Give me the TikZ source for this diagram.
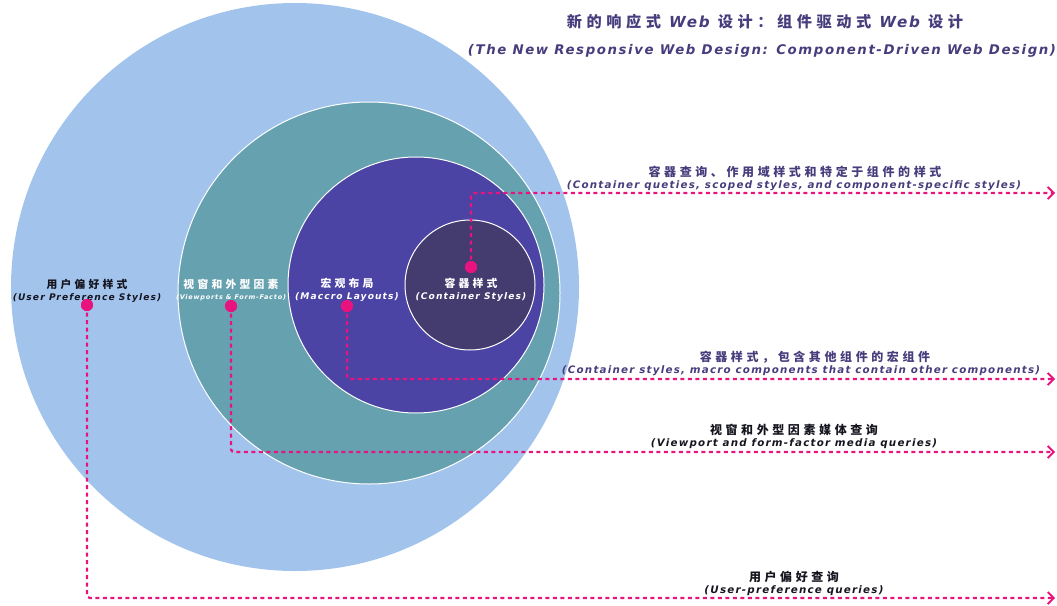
\documentclass[tikz,border=0pt]{standalone}
\usepackage{fontspec}
\usetikzlibrary{arrows.meta}
\newfontfamily\cjk[LetterSpace=30]{Noto Sans CJK SC}
\newfontfamily\en[LetterSpace=12]{DejaVu Sans}
\definecolor{outerblue}{HTML}{A2C4EC}
\definecolor{tealc}{HTML}{66A1B0}
\definecolor{purplec}{HTML}{4C44A4}
\definecolor{darkc}{HTML}{443B6F}
\definecolor{hotpink}{HTML}{E8137E}
\definecolor{titlec}{HTML}{463D7C}
\definecolor{inkc}{HTML}{15151F}
\begin{document}
\begin{tikzpicture}[x=1pt,y=-1pt,
  ring/.style={circle, inner sep=0pt, outer sep=0pt},
  dot/.style={circle, fill=hotpink, inner sep=0pt, minimum size=12pt},
  link/.style={hotpink, line width=2.3pt, dash pattern=on 4pt off 3.5pt,
    -{Straight Barb[length=6pt,width=12pt,line width=1.8pt]}, rounded corners=3pt},
  cnl/.style={inner sep=0pt, font=\cjk\bfseries\fontsize{10.8}{12}\selectfont},
  enl/.style={inner sep=0pt, font=\en\bfseries\itshape\fontsize{9.1}{10}\selectfont},
  cnr/.style={inner sep=0pt, font=\cjk\bfseries\fontsize{12}{14}\selectfont},
  enr/.style={inner sep=0pt, font=\en\bfseries\itshape\fontsize{10.3}{12}\selectfont},
]
\useasboundingbox (0,0) rectangle (1057,605);
% circles
\node[ring, fill=outerblue, minimum size=568pt] (c1) at (295,287) {};
\node[ring, fill=tealc, draw=white, line width=1pt, minimum size=382pt] (c2) at (369,293) {};
\node[ring, fill=purplec, draw=white, line width=1pt, minimum size=256pt] (c3) at (416,285) {};
\node[ring, fill=darkc, draw=white, line width=1pt, minimum size=130pt] (c4) at (470,285) {};

% title
\node[inner sep=0pt, text=titlec, font=\cjk\bfseries\fontsize{15.2}{17}\selectfont] (t1) at (765,22) {新的响应式 {\en\bfseries\itshape Web} 设计：组件驱动式 {\en\bfseries\itshape Web} 设计};
\node[inner sep=0pt, text=titlec, font=\en\bfseries\itshape\fontsize{13.3}{15}\selectfont] (t2) at (762,51) {(The New Responsive Web Design: Component-Driven Web Design)};

% circle labels
\node[cnl, text=inkc] (l1a) at (87,284) {用户偏好样式};
\node[enl, text=inkc] (l1b) at (87,298) {(User Preference Styles)};
\node[cnl, text=white] (l2a) at (231,284) {视窗和外型因素};
\node[inner sep=0pt, text=white, font=\en\bfseries\itshape\fontsize{6.5}{7}\selectfont] (l2b) at (231,298) {(Viewports \& Form-Facto)};
\node[cnl, text=white] (l3a) at (347,283) {宏观布局};
\node[enl, text=white] (l3b) at (347,297) {(Maccro Layouts)};
\node[cnl, text=white] (l4a) at (471,283) {容器样式};
\node[enl, text=white] (l4b) at (471,297) {(Container Styles)};

% dots
\node[dot] (d1) at (87,305) {};
\node[dot] (d2) at (231,306) {};
\node[dot] (d3) at (347,306) {};
\node[dot] (d4) at (471,267) {};

% end points
\coordinate (e4) at (1055,193);
\coordinate (e3) at (1055,379);
\coordinate (e2) at (1055,452);
\coordinate (e1) at (1055,598);

\draw[link] (d4.center) |- (e4);
\draw[link] (d3.center) |- (e3);
\draw[link] (d2.center) |- (e2);
\draw[link] (d1.center) |- (e1);
\node[dot] at (d1) {};
\node[dot] at (d2) {};
\node[dot] at (d3) {};
\node[dot] at (d4) {};

% right labels
\node[cnr, text=titlec] (r4a) at (795,172) {容器查询、作用域样式和特定于组件的样式};
\node[enr, text=titlec] (r4b) at (794,186) {(Container queties, scoped styles, and component-specific styles)};
\node[cnr, text=titlec] (r3a) at (815,357) {容器样式，包含其他组件的宏组件};
\node[enr, text=titlec] (r3b) at (801,371) {(Container styles, macro components that contain other components)};
\node[cnr, text=inkc] (r2a) at (794,430) {视窗和外型因素媒体查询};
\node[enr, text=inkc] (r2b) at (794,444) {(Viewport and form-factor media queries)};
\node[cnr, text=inkc] (r1a) at (794,577) {用户偏好查询};
\node[enr, text=inkc] (r1b) at (794,591) {(User-preference queries)};
\end{tikzpicture}
\end{document}
